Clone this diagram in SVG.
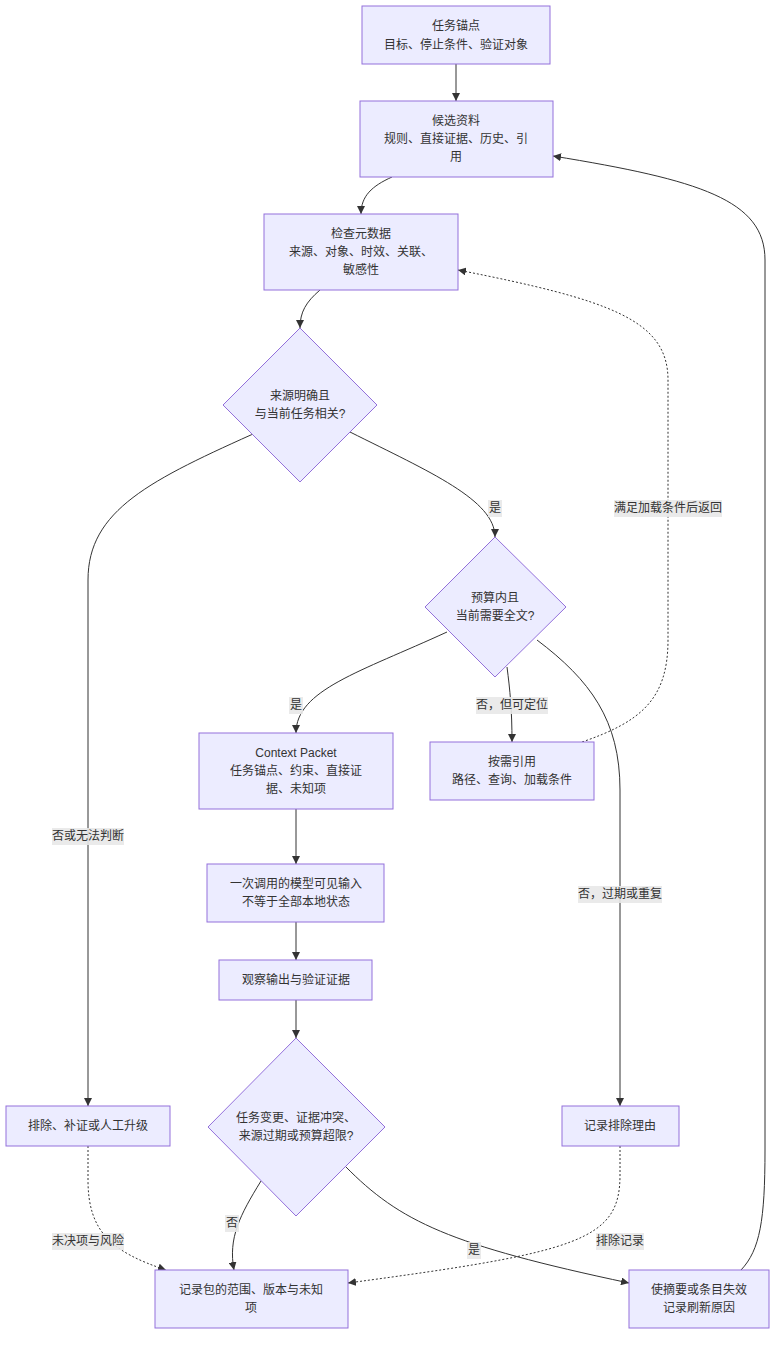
<svg xmlns="http://www.w3.org/2000/svg" width="784" height="1349" viewBox="0 0 784 1349">
<style>
.n rect,.n polygon{fill:#ECECFF;stroke:#9370DB;stroke-width:1}
text{font-family:"Liberation Sans","Noto Sans CJK SC",sans-serif;font-size:12px;fill:#333;text-anchor:middle;dominant-baseline:central}
.e{fill:none;stroke:#333;stroke-width:1}
.d{stroke-dasharray:2 2}
.lb{fill:#e8e8e8;opacity:0.9}
</style>
<defs>
<marker id="ah" viewBox="0 0 10 10" refX="10" refY="5" markerWidth="8" markerHeight="8" markerUnits="userSpaceOnUse" orient="auto">
<path d="M0,0 L10,5 L0,10 z" fill="#333"/>
</marker>
</defs>
<rect width="784" height="1349" fill="#fff"/>
<g id="edges">
<path class="e" d="M456,64 L456,101" marker-end="url(#ah)"/>
<path class="e" d="M392,177 C372,186 361,196 361,214" marker-end="url(#ah)"/>
<path class="e" d="M320,290 C306,302 300,312 300,328" marker-end="url(#ah)"/>
<path class="e" d="M350,432 C430,472 495,500 495,537" marker-end="url(#ah)"/>
<path class="e" d="M262,430 C150,480 88,510 88,580 L88,1106" marker-end="url(#ah)"/>
<path class="e" d="M447,632 C360,672 296,690 296,733" marker-end="url(#ah)"/>
<path class="e" d="M507,667 C510,690 512,710 512,742" marker-end="url(#ah)"/>
<path class="e" d="M537,640 C590,680 620,720 620,790 L620,1106" marker-end="url(#ah)"/>
<path class="e d" d="M582,742 C640,722 668,700 668,640 L668,380 C668,320 610,300 458,270" marker-end="url(#ah)"/>
<path class="e" d="M296,809 L296,864" marker-end="url(#ah)"/>
<path class="e" d="M296,922 L296,960" marker-end="url(#ah)"/>
<path class="e" d="M296,1000 L296,1038" marker-end="url(#ah)"/>
<path class="e" d="M261,1181 C240,1215 228,1238 234,1270" marker-end="url(#ah)"/>
<path class="e" d="M345,1166 C400,1222 450,1245 629,1283" marker-end="url(#ah)"/>
<path class="e d" d="M88,1146 L88,1180 C88,1232 112,1252 166,1270" marker-end="url(#ah)"/>
<path class="e d" d="M620,1146 L620,1175 C620,1240 580,1252 348,1283" marker-end="url(#ah)"/>
<path class="e" d="M741,1270 C760,1250 765,1220 765,1150 L765,260 C765,200 700,180 553,156" marker-end="url(#ah)"/>
<g id="edge-labels">
<rect class="lb" x="488" y="500" width="14" height="17"/><text x="495" y="508">是</text>
<rect class="lb" x="52" y="828" width="72" height="17"/><text x="88" y="836">否或无法判断</text>
<rect class="lb" x="289" y="697" width="14" height="17"/><text x="296" y="705">是</text>
<rect class="lb" x="476" y="697" width="72" height="17"/><text x="512" y="705">否，但可定位</text>
<rect class="lb" x="578" y="886" width="84" height="17"/><text x="620" y="894">否，过期或重复</text>
<rect class="lb" x="614" y="500" width="108" height="17"/><text x="668" y="508">满足加载条件后返回</text>
<rect class="lb" x="225" y="1215" width="14" height="17"/><text x="232" y="1223">否</text>
<rect class="lb" x="467" y="1242" width="14" height="17"/><text x="474" y="1250">是</text>
<rect class="lb" x="52" y="1233" width="72" height="17"/><text x="88" y="1241">未决项与风险</text>
<rect class="lb" x="596" y="1233" width="48" height="17"/><text x="620" y="1241">排除记录</text>
</g>
</g>
<g id="A" class="n"><rect x="362" y="6" width="188" height="58"/><text x="456" y="26">任务锚点</text><text x="456" y="45">目标、停止条件、验证对象</text></g>
<g id="B" class="n"><rect x="360" y="101" width="193" height="76"/><text x="456" y="121">候选资料</text><text x="456" y="139">规则、直接证据、历史、引</text><text x="456" y="157">用</text></g>
<g id="C" class="n"><rect x="264" y="214" width="194" height="76"/><text x="361" y="234">检查元数据</text><text x="361" y="252">来源、对象、时效、关联、</text><text x="361" y="270">敏感性</text></g>
<g id="D" class="n"><polygon points="300,328 377,405 300,482 223,405"/><text x="300" y="396">来源明确且</text><text x="300" y="414">与当前任务相关?</text></g>
<g id="E" class="n"><polygon points="495,537 566,607 495,677 425,607"/><text x="495" y="598">预算内且</text><text x="495" y="616">当前需要全文?</text></g>
<g id="F" class="n"><rect x="199" y="733" width="194" height="76"/><text x="296" y="753">Context Packet</text><text x="296" y="771">任务锚点、约束、直接证</text><text x="296" y="789">据、未知项</text></g>
<g id="G" class="n"><rect x="430" y="742" width="164" height="58"/><text x="512" y="762">按需引用</text><text x="512" y="780">路径、查询、加载条件</text></g>
<g id="H" class="n"><rect x="207" y="864" width="177" height="58"/><text x="296" y="884">一次调用的模型可见输入</text><text x="296" y="902">不等于全部本地状态</text></g>
<g id="I" class="n"><rect x="219" y="960" width="153" height="40"/><text x="296" y="980">观察输出与验证证据</text></g>
<g id="J" class="n"><polygon points="296,1038 385,1127 296,1216 208,1127"/><text x="296" y="1118">任务变更、证据冲突、</text><text x="296" y="1136">来源过期或预算超限?</text></g>
<g id="K" class="n"><rect x="6" y="1106" width="164" height="40"/><text x="88" y="1126">排除、补证或人工升级</text></g>
<g id="L" class="n"><rect x="562" y="1106" width="117" height="40"/><text x="620" y="1126">记录排除理由</text></g>
<g id="M" class="n"><rect x="155" y="1270" width="193" height="58"/><text x="251" y="1290">记录包的范围、版本与未知</text><text x="251" y="1308">项</text></g>
<g id="N" class="n"><rect x="629" y="1270" width="140" height="58"/><text x="699" y="1290">使摘要或条目失效</text><text x="699" y="1308">记录刷新原因</text></g>
</svg>
